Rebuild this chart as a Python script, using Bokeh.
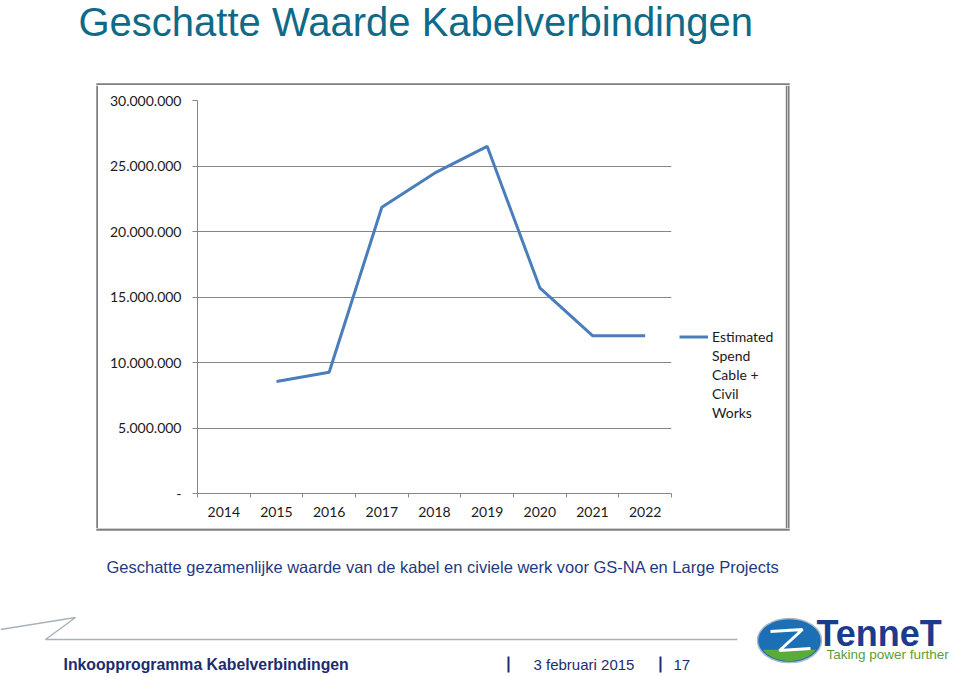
import numpy as np
from bokeh.plotting import figure
from bokeh.layouts import column, row
from bokeh.models import Range1d, FixedTicker, Legend, LegendItem, ColumnDataSource
from bokeh.core.properties import value
from bokeh.embed import file_html
from bokeh.resources import INLINE

# ---------------- data ----------------
years = ["2014", "2015", "2016", "2017", "2018", "2019", "2020", "2021", "2022"]
spend = [float("nan"), 8.55e6, 9.25e6, 21.85e6, 24.45e6, 26.5e6, 15.7e6, 12.05e6, 12.05e6]
y_ticks = [0, 5e6, 10e6, 15e6, 20e6, 25e6, 30e6]
y_tick_labels = ["-", "5.000.000", "10.000.000", "15.000.000", "20.000.000", "25.000.000", "30.000.000"]
series_name_lines = ["Estimated", "Spend", "Cable +", "Civil", "Works"]
title_text = "Geschatte Waarde Kabelverbindingen"
subtitle_text = "Geschatte gezamenlijke  waarde  van de kabel en civiele werk voor GS-NA en Large Projects"
footer_left = "Inkoopprogramma Kabelverbindingen"
footer_date = "3 februari 2015"
footer_page = "17"
logo_name = "TenneT"
logo_tagline = "Taking power further"

# ---------------- layout (page pixels) ----------------
PW, PH = 960, 677
BOX_L, BOX_R, BOX_T, BOX_B = 96, 789, 83, 530      # chart picture border
FL, FR, FT, FB = 197, 671, 100, 493                # chart plot area
ROW_T, ROW_B = 85, 528
LEFT_W = 98
SPLIT = 676
RIGHT_X = 787

LINE_BLUE = "#4a7ebb"
AXIS_COL = "#868686"
BORDER_COL = "#7f7f7f"
TXT_FONT = "Lato"
TXT_SIZE = "14px"
NAVY = "#1b2d6e"


def deco_fig(x0, x1, y0, y1):
    f = figure(width=x1 - x0, height=y1 - y0, x_range=Range1d(x0, x1), y_range=Range1d(y1, y0),
               x_axis_type=None, y_axis_type=None, toolbar_location=None, output_backend="svg",
               min_border=0, outline_line_color=None, background_fill_color="white",
               border_fill_color="white", frame_align=False)
    return f


# ---------------- chart figure ----------------
n = len(years)
src = ColumnDataSource(dict(x=list(range(n)), y=spend, year=years))

chart_w = SPLIT - LEFT_W
chart_h = ROW_B - ROW_T
p = figure(width=chart_w, height=chart_h, output_backend="svg", toolbar_location=None,
           x_range=Range1d(-0.5, n - 0.5), y_range=Range1d(0, 30e6),
           min_border_left=FL - LEFT_W, min_border_right=SPLIT - FR,
           min_border_top=FT - ROW_T, min_border_bottom=ROW_B - FB,
           outline_line_color=None, background_fill_color="white", border_fill_color="white",
           frame_align=False)

p.yaxis.ticker = FixedTicker(ticks=y_ticks, minor_ticks=[])
p.yaxis.major_label_overrides = {t: l for t, l in zip(y_ticks, y_tick_labels)}
p.yaxis.axis_line_color = AXIS_COL
p.yaxis.major_tick_line_color = AXIS_COL
p.yaxis.major_tick_out = 5
p.yaxis.major_tick_in = 0
p.yaxis.minor_tick_line_color = None
p.yaxis.major_label_text_font = TXT_FONT
p.yaxis.major_label_text_font_size = TXT_SIZE
p.yaxis.major_label_text_color = "#1a1a1a"
p.yaxis.major_label_standoff = 11

p.xaxis.ticker = FixedTicker(ticks=list(range(n)), minor_ticks=[i - 0.5 for i in range(n + 1)])
p.xaxis.major_label_overrides = {i: y for i, y in enumerate(years)}
p.xaxis.axis_line_color = AXIS_COL
p.xaxis.major_tick_line_color = None
p.xaxis.major_tick_out = 0
p.xaxis.major_tick_in = 0
p.xaxis.minor_tick_line_color = AXIS_COL
p.xaxis.minor_tick_out = 4
p.xaxis.minor_tick_in = 0
p.xaxis.major_label_text_font = TXT_FONT
p.xaxis.major_label_text_font_size = TXT_SIZE
p.xaxis.major_label_text_color = "#1a1a1a"
p.xaxis.major_label_standoff = 9

p.xgrid.grid_line_color = None
p.ygrid.grid_line_color = AXIS_COL
p.ygrid.grid_line_width = 1

p.line(x="x", y="y", source=src, line_color=LINE_BLUE, line_width=3)

# ---------------- legend figure (inside the chart picture) ----------------
lg = deco_fig(SPLIT, RIGHT_X, ROW_T, ROW_B)
lr = lg.line(x=[float("nan")], y=[float("nan")], line_color=LINE_BLUE, line_width=3)
lr_blank = lg.line(x=[float("nan")], y=[float("nan")], line_color=LINE_BLUE, line_alpha=0)
items = [LegendItem(label=series_name_lines[0], renderers=[lr])]
items += [LegendItem(label=t, renderers=[lr_blank]) for t in series_name_lines[1:]]
legend = Legend(items=items,
                location=(679 - SPLIT, ROW_B - 422), border_line_color=None,
                background_fill_alpha=0, padding=0, margin=0, spacing=0,
                glyph_width=29, glyph_height=19, label_standoff=4,
                label_text_font=TXT_FONT, label_text_font_size=TXT_SIZE,
                label_text_color="#1a1a1a", label_height=19)
lg.add_layout(legend)
lg.segment(x0=[RIGHT_X - 0.5], y0=[ROW_T], x1=[RIGHT_X - 0.5], y1=[ROW_B],
           line_color=BORDER_COL, line_width=2.5)

# ---------------- side strips carrying the picture border ----------------
left_f = deco_fig(0, LEFT_W, ROW_T, ROW_B)
left_f.segment(x0=[BOX_L + 1], y0=[ROW_T], x1=[BOX_L + 1], y1=[ROW_B],
               line_color=BORDER_COL, line_width=2.5)
right_f = deco_fig(RIGHT_X, PW, ROW_T, ROW_B)
right_f.segment(x0=[RIGHT_X + 0.8], y0=[ROW_T], x1=[RIGHT_X + 0.8], y1=[ROW_B],
                line_color=BORDER_COL, line_width=2.5)

# ---------------- top strip: title + top border ----------------
top_f = deco_fig(0, PW, 0, ROW_T)
top_f.text(x=[78], y=[21], text=[title_text], text_font=value("Liberation Sans"),
           text_font_size="40px", text_color="#0f6a88", text_baseline="alphabetic")
top_f.segment(x0=[BOX_L - 0.2], y0=[BOX_T + 1], x1=[BOX_R + 0.2], y1=[BOX_T + 1],
              line_color=BORDER_COL, line_width=2.5)

# ---------------- bottom strip ----------------
bot_f = deco_fig(0, PW, ROW_B, PH)
bot_f.segment(x0=[BOX_L - 0.2], y0=[BOX_B - 1], x1=[BOX_R + 0.2], y1=[BOX_B - 1],
              line_color=BORDER_COL, line_width=2.5)
bot_f.text(x=[106], y=[566], text=[subtitle_text], text_font=value("Liberation Sans"),
           text_font_size="16.5px", text_color="#1f3a80", text_baseline="alphabetic")
bot_f.line(x=[0, 75, 45, 737], y=[629, 617, 639, 639], line_color="#a9b2bb", line_width=1.5)
bot_f.text(x=[63], y=[664], text=[footer_left], text_font=value("Liberation Sans"),
           text_font_size="15.8px", text_font_style="bold", text_color=NAVY,
           text_baseline="alphabetic")
bot_f.text(x=[533, 673], y=[664, 664], text=[footer_date, footer_page],
           text_font=value("Liberation Sans"), text_font_size="15px", text_color=NAVY,
           text_baseline="alphabetic")
bot_f.quad(left=[507, 659], right=[509, 661], top=[656, 656], bottom=[672, 672],
           fill_color=NAVY, line_color=None)

# logo
cx, cy, ra, rb = 789, 640, 32, 22
bot_f.ellipse(x=[cx], y=[cy], width=[2 * ra], height=[2 * rb], fill_color="#1c6fb4",
              line_color="#a8b8c6", line_width=1.5)
tg = np.linspace(0.15 * np.pi, 0.85 * np.pi, 40)
bot_f.patch(x=list(cx + ra * 0.93 * np.cos(tg)), y=list(cy + rb * 0.93 * np.sin(tg)),
            fill_color="#5aaa3c", line_color=None)
bot_f.line(x=[770, 802, 779, 810], y=[631, 629, 650, 648], line_color="white", line_width=3)
bot_f.text(x=[816], y=[633], text=[logo_name], text_font=value("Liberation Sans"),
           text_font_size="36px", text_font_style="bold", text_color="#1d3b8b",
           text_baseline="alphabetic")
bot_f.text(x=[826], y=[654], text=[logo_tagline], text_font=value("Liberation Sans"),
           text_font_size="13.5px", text_color="#5a9e3a", text_baseline="alphabetic")

layout = column(top_f, row(left_f, p, lg, right_f), bot_f)

open("out.html", "w").write(file_html(layout, INLINE))
